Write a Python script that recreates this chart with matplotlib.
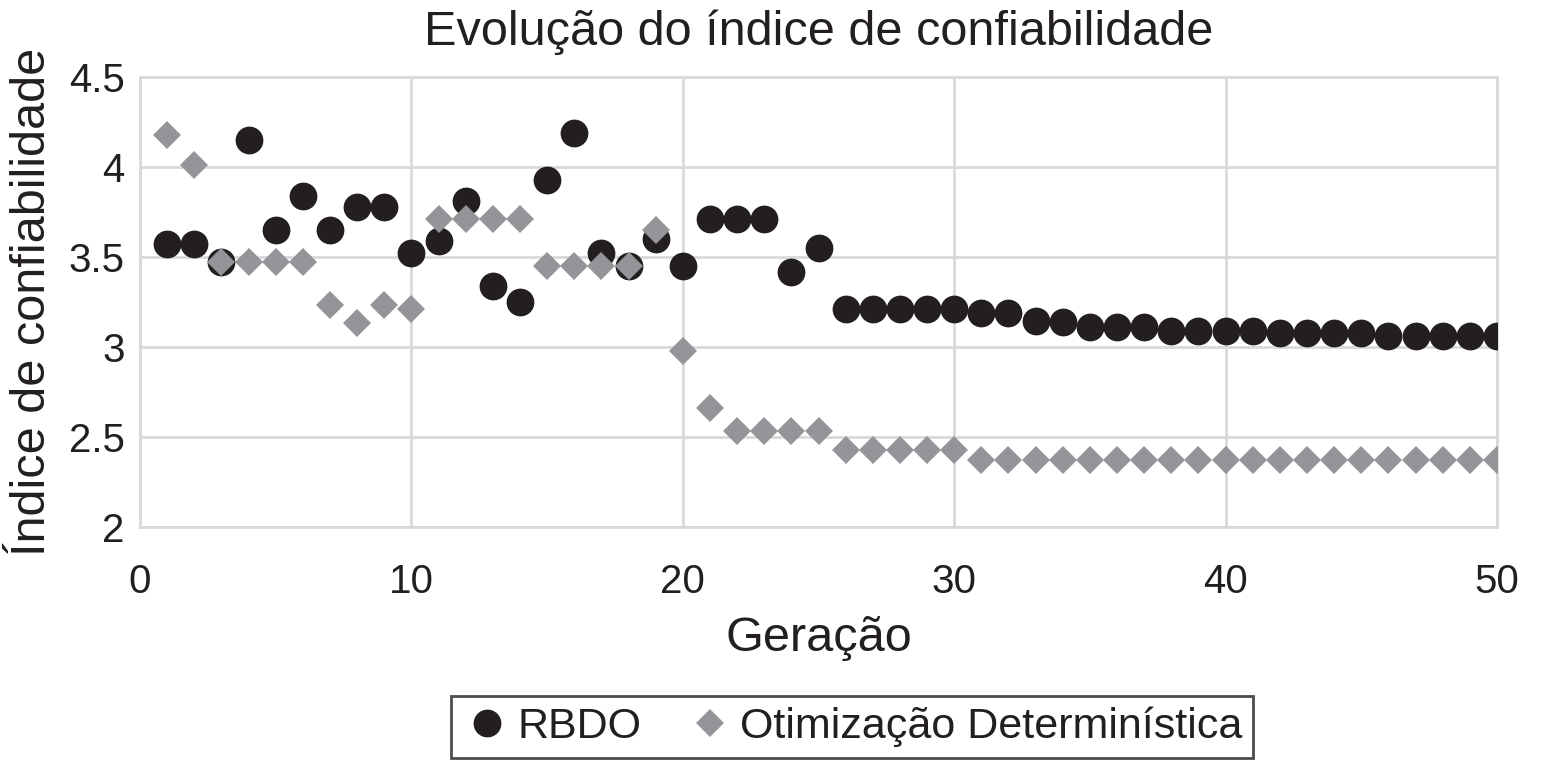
import matplotlib
matplotlib.use("Agg")
import matplotlib.pyplot as plt
import numpy as np

plt.rcParams['font.family'] = ['Liberation Sans', 'DejaVu Sans']

generations = list(range(1, 51))
rbdo = [3.57, 3.57, 3.47, 4.15, 3.65, 3.84, 3.65, 3.78, 3.78, 3.52,
        3.59, 3.81, 3.34, 3.25, 3.93, 4.19, 3.52, 3.45, 3.60, 3.45,
        3.71, 3.71, 3.71, 3.415, 3.55, 3.21, 3.21, 3.21, 3.21, 3.21,
        3.19, 3.19, 3.145, 3.14, 3.11, 3.11, 3.11, 3.09, 3.09, 3.09,
        3.09, 3.08, 3.08, 3.08, 3.08, 3.06, 3.06, 3.06, 3.06, 3.06]
determ = [4.18, 4.01, 3.47, 3.47, 3.47, 3.47, 3.235, 3.135, 3.235, 3.21,
          3.71, 3.71, 3.71, 3.71, 3.45, 3.45, 3.45, 3.45, 3.65, 2.98,
          2.66, 2.535, 2.535, 2.535, 2.535, 2.43, 2.43, 2.43, 2.43, 2.43,
          2.375, 2.375, 2.375, 2.375, 2.375, 2.375, 2.375, 2.375, 2.375, 2.375,
          2.375, 2.375, 2.375, 2.375, 2.375, 2.375, 2.375, 2.375, 2.375, 2.375]
series_names = ["RBDO", "Otimização Determinística"]
x_ticks = [0, 10, 20, 30, 40, 50]
y_ticks = [2, 2.5, 3, 3.5, 4, 4.5]
y_tick_labels = ["2", "2.5", "3", "3.5", "4", "4.5"]

text_color = "#231f20"
grid_color = "#d9d9d9"

fig = plt.figure(figsize=(15.44, 7.64), dpi=100)
ax = fig.add_axes([140/1544, 1-527/764, (1497-140)/1544, (527-77)/764])

ax.plot(generations, rbdo, linestyle='none', marker='o', markersize=20,
        color=text_color, markeredgewidth=0, label=series_names[0], zorder=3)
ax.plot(generations, determ, linestyle='none', marker='D', markersize=14.5,
        color="#939598", markeredgewidth=0, label=series_names[1], zorder=4)

ax.set_xlim(0, 50)
ax.set_ylim(2, 4.5)
ax.set_xticks(x_ticks)
ax.set_yticks(y_ticks)
ax.set_yticklabels(y_tick_labels)
ax.grid(True, color=grid_color, linewidth=2)
ax.set_axisbelow(True)
for s in ax.spines.values():
    s.set_color(grid_color)
    s.set_linewidth(2)
ax.tick_params(axis='both', length=0, labelsize=29, colors=text_color)
ax.tick_params(axis='x', pad=26)
ax.tick_params(axis='y', pad=11)

ax.set_title("Evolução do índice de confiabilidade", fontsize=35, color=text_color, pad=23)
ax.set_xlabel("Geração", fontsize=35, color=text_color, labelpad=11)
ax.set_ylabel("Índice de confiabilidade", fontsize=35, color=text_color, labelpad=10)

leg = ax.legend(loc='center', bbox_to_anchor=(852/1544, 1-727/764),
                bbox_transform=fig.transFigure, ncol=2, frameon=True,
                fontsize=31, fancybox=False, borderpad=0.25, handletextpad=0.1,
                columnspacing=1.0, handlelength=1.2, labelcolor=text_color,
                markerscale=1.0)
leg.get_frame().set_edgecolor(text_color)
leg.get_frame().set_linewidth(2)

fig.savefig("out.png", dpi=100)
